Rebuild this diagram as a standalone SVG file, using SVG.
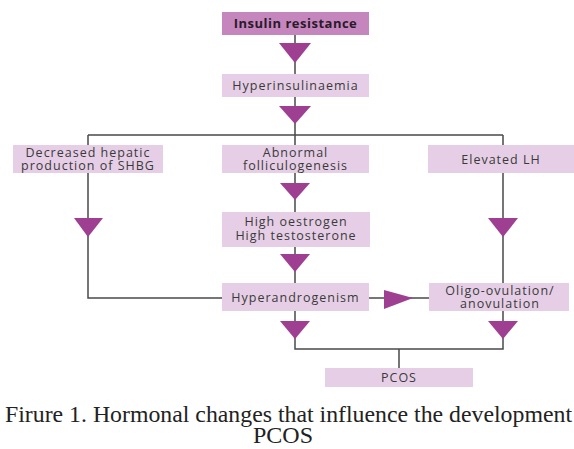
<svg xmlns="http://www.w3.org/2000/svg" width="574" height="449" viewBox="0 0 574 449">
<style>
.box{fill:#e6cfe6}
.top{fill:#c586bd}
.t{font-family:"Open Sans","DejaVu Sans",sans-serif;font-size:12.5px;letter-spacing:1px;fill:#3a3a3a;text-anchor:middle}
.tb{font-family:"Open Sans","DejaVu Sans",sans-serif;font-size:13px;letter-spacing:0.5px;font-weight:bold;fill:#2a1a2a;text-anchor:middle}
.ln{stroke:#4a4a4a;stroke-width:1.5;fill:none}
.tri{fill:#9e3f91}
.cap{font-family:"Liberation Serif","Times New Roman",serif;font-size:24px;fill:#222}
</style>
<rect width="574" height="449" fill="#fff"/>
<g id="connectors">
<path class="ln" d="M295 35V74M295 97V135M88 135H503M88 135V298H222M295 135V145M503 135V145M503 173V283M295 173V212M295 247V283M369 298H429M295 311V349H503V311M399 349V368"/>
<polygon class="tri" points="279,43 311,43 295,63"/>
<polygon class="tri" points="279,106 311,106 295,124"/>
<polygon class="tri" points="74,218 103,218 88,237"/>
<polygon class="tri" points="488,218 518,218 503,237"/>
<polygon class="tri" points="280,183 310,183 295,200"/>
<polygon class="tri" points="280,254 310,254 295,272"/>
<polygon class="tri" points="384,290 384,309 413,298"/>
<polygon class="tri" points="280,321 310,321 295,339"/>
<polygon class="tri" points="488,321 518,321 503,339"/>
</g>
<g id="n1"><rect class="top" x="222" y="12" width="147" height="23"/><text class="tb" x="295.5" y="28">Insulin resistance</text></g>
<g id="n2"><rect class="box" x="222" y="74" width="147" height="23"/><text class="t" x="295.5" y="90">Hyperinsulinaemia</text></g>
<g id="n3"><rect class="box" x="13" y="145" width="150" height="28"/><text class="t" x="88" y="156.5">Decreased hepatic</text><text class="t" x="88" y="170">production of SHBG</text></g>
<g id="n4"><rect class="box" x="222" y="145" width="147" height="28"/><text class="t" x="295.5" y="156.5">Abnormal</text><text class="t" x="295.5" y="170">folliculogenesis</text></g>
<g id="n5"><rect class="box" x="428" y="145" width="146" height="28"/><text class="t" x="501" y="163.5">Elevated LH</text></g>
<g id="n6"><rect class="box" x="222" y="212" width="148" height="35"/><text class="t" x="296" y="225.5">High oestrogen</text><text class="t" x="296" y="239.5">High testosterone</text></g>
<g id="n7"><rect class="box" x="222" y="283" width="147" height="28"/><text class="t" x="295.5" y="301.5">Hyperandrogenism</text></g>
<g id="n8"><rect class="box" x="429" y="283" width="140" height="28"/><text class="t" x="500" y="294.5">Oligo-ovulation/</text><text class="t" x="500" y="308">anovulation</text></g>
<g id="n9"><rect class="box" x="325" y="368" width="148" height="19"/><text class="t" x="399" y="382">PCOS</text></g>
<text class="cap" x="5" y="422" textLength="567" lengthAdjust="spacingAndGlyphs">Firure 1. Hormonal changes that influence the development</text>
<text class="cap" x="283" y="443" text-anchor="middle">PCOS</text>
</svg>
